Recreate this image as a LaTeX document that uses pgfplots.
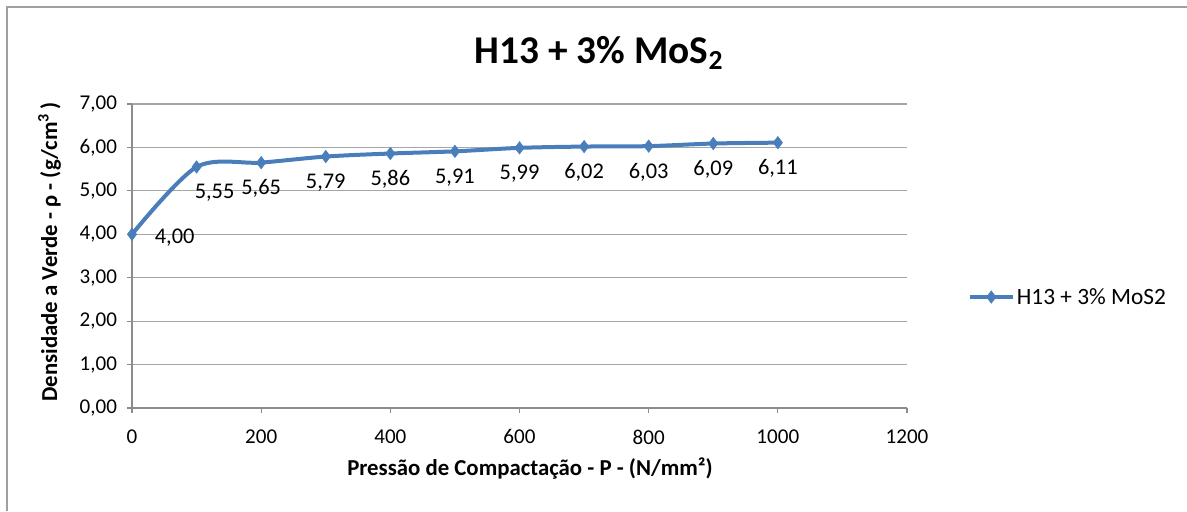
\documentclass[border=0pt]{standalone}
\usepackage{fontspec}
\setmainfont{Carlito}
\usepackage{pgfplots}
\usepackage{pgfplotstable}
\pgfplotsset{compat=1.18}

\definecolor{serie}{HTML}{4A7EBB}
\definecolor{grade}{HTML}{A6A6A6}
\definecolor{eixo}{HTML}{8C8C8C}
\definecolor{moldura}{HTML}{A0A0A0}

% Densidade a verde em função da pressão de compactação
\pgfplotstableread{
P    rho
0    4.00
100  5.55
200  5.65
300  5.79
400  5.86
500  5.91
600  5.99
700  6.02
800  6.03
900  6.09
1000 6.11
}\dados

\begin{document}
\begin{tikzpicture}
\begin{scope}[x=0.75bp,y=-0.75bp]
  \useasboundingbox (0,0) rectangle (1187,511);
  \draw[moldura, line width=1.6bp] (7,511) -- (7,7) -- (1187,7);
\end{scope}

\begin{axis}[
  at={(99bp,-306bp)}, anchor=south west,
  scale only axis, width=581.25bp, height=228bp,
  xmin=0, xmax=1200, ymin=0, ymax=7,
  xtick={0,200,...,1200}, ytick={0,1,...,7},
  axis x line*=bottom, axis y line*=left,
  axis line style={eixo, line width=0.9bp, -},
  ymajorgrids, major grid style={grade, line width=0.9bp},
  tick align=outside, major tick length=3.75bp,
  tick style={eixo, line width=0.9bp},
  tick label style={font=\fontsize{15.8bp}{18bp}\selectfont},
  /pgf/number format/assume math mode=true,
  /pgf/number format/use comma,
  /pgf/number format/1000 sep={},
  /pgf/number format/fixed,
  /pgf/number format/fixed zerofill,
  /pgf/number format/precision=2,
  xticklabel style={/pgf/number format/precision=0,
                    /pgf/number format/fixed zerofill=false, yshift=-9bp},
  yticklabel style={xshift=-4bp},
  legend style={at={(1.0787,0.365)}, anchor=west, draw=none, fill=none,
                inner sep=0pt, font=\fontsize{17.5bp}{20bp}\selectfont},
  legend cell align=left,
  legend image code/.code={%
    \draw[#1, mark repeat=2, mark phase=2]
      plot coordinates {(0bp,0bp) (15.75bp,0bp) (31.5bp,0bp)};},
  clip=false,
]
\addplot[serie, line width=3bp, smooth, tension=0.5,
         mark=diamond*, mark size=4.6bp,
         mark options={solid, fill=serie, draw=serie, line width=0.5bp}]
  table[x=P, y=rho] {\dados};
\addlegendentry{H13 + 3\% MoS2}

% rótulos de dados
\addplot[draw=none, mark=none, forget plot,
         restrict x to domain=150:1050,
         nodes near coords, point meta=y,
         every node near coord/.append style={anchor=center, yshift=-19.5bp,
           text=black, font=\fontsize{16.8bp}{19bp}\selectfont}]
  table[x=P, y=rho] {\dados};
\addplot[draw=none, mark=none, forget plot,
         restrict x to domain=50:150,
         nodes near coords, point meta=y,
         every node near coord/.append style={anchor=center, yshift=-19.5bp,
           xshift=13.5bp, text=black, font=\fontsize{16.8bp}{19bp}\selectfont}]
  table[x=P, y=rho] {\dados};
\addplot[draw=none, mark=none, forget plot,
         restrict x to domain=-50:50,
         nodes near coords, point meta=y,
         every node near coord/.append style={anchor=center, yshift=-2.3bp,
           xshift=32bp, text=black, font=\fontsize{16.8bp}{19bp}\selectfont}]
  table[x=P, y=rho] {\dados};
\end{axis}

\begin{scope}[x=0.75bp,y=-0.75bp]
  \node[anchor=base, font=\bfseries\fontsize{29.5bp}{34bp}\selectfont]
    at (599,63) {H13 + 3\% MoS\textsubscript{2}};
  \node[anchor=base, font=\bfseries\fontsize{17.1bp}{20bp}\selectfont]
    at (530,475) {Pressão de Compactação - P - (N/mm²)};
  \node[anchor=base, rotate=90, font=\bfseries\fontsize{17.1bp}{20bp}\selectfont]
    at (57,252) {Densidade a Verde - ρ - (g/cm\textsuperscript{3}\,)};
\end{scope}
\end{tikzpicture}
\end{document}
